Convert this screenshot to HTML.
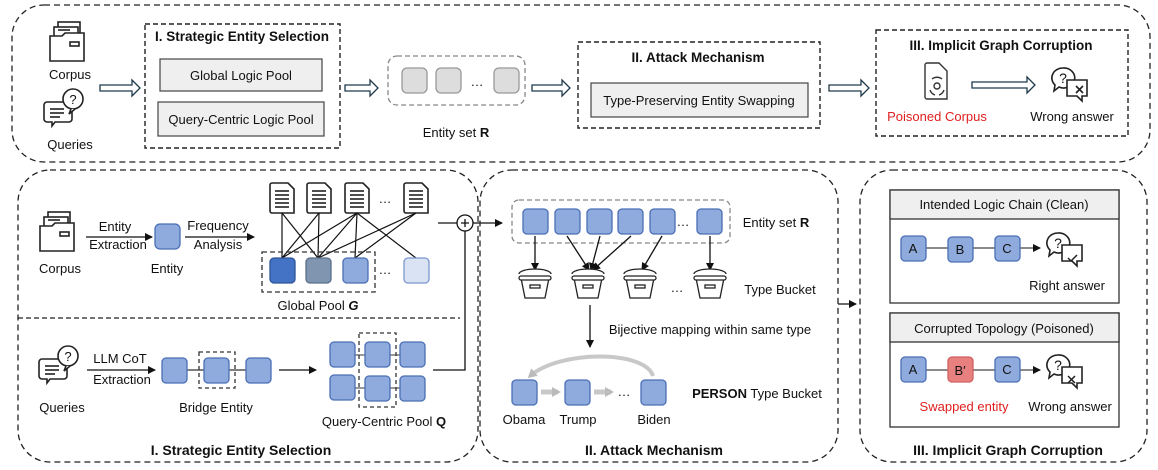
<!DOCTYPE html>
<html><head><meta charset="utf-8"><style>
html,body{margin:0;padding:0;background:#fff;}
svg{display:block;}
text{font-family:"Liberation Sans",sans-serif;font-size:13px;fill:#111;}
.t{font-weight:bold;font-size:13.5px;}
.c{text-anchor:middle;}
</style></head><body>
<svg width="1158" height="470" viewBox="0 0 1158 470" xmlns="http://www.w3.org/2000/svg">
<defs>
<marker id="ah" markerWidth="8" markerHeight="8" refX="7" refY="4" orient="auto" markerUnits="userSpaceOnUse"><path d="M0,0 L8,4 L0,8 z" fill="#111"/></marker>
<marker id="ahg" markerWidth="9" markerHeight="10" refX="6" refY="5" orient="auto" markerUnits="userSpaceOnUse"><path d="M0,0 L9,5 L0,10 z" fill="#bbb"/></marker>
<g id="folder" fill="#fff" stroke="#222" stroke-width="1.6">
<rect x="8" y="0" width="22" height="20"/>
<rect x="4" y="5" width="24" height="18"/>
<path d="M0,14 h12 l3,-3 h19 v28 h-34 z"/>
<line x1="8" y1="8" x2="20" y2="8"/><rect x="20" y="20" width="9" height="4"/>
</g>
<g id="query" fill="#fff" stroke="#222" stroke-width="1.6">
<path d="M2,14 h22 a3,3 0 0 1 3,3 v14 a3,3 0 0 1 -3,3 h-14 l-3,4 v-4 h-5 a3,3 0 0 1 -3,-3 v-14 a3,3 0 0 1 3,-3z"/>
<line x1="5" y1="21" x2="19" y2="21"/><line x1="5" y1="25" x2="19" y2="25"/><line x1="5" y1="29" x2="15" y2="29"/>
<circle cx="28" cy="11" r="10"/><path d="M26,21 l-2,5 l6,-5" />
<text x="28" y="16" class="c" style="font-size:13px;stroke:none;fill:#111">?</text>
</g>
<g id="doc" fill="#fff" stroke="#222" stroke-width="1.6">
<path d="M2,0 h16 l6,6 v24 h-22 a2,2 0 0 1 -2,-2 v-26 a2,2 0 0 1 2,-2z"/>
<line x1="5" y1="8" x2="19" y2="8"/><line x1="5" y1="12" x2="19" y2="12"/><line x1="5" y1="16" x2="19" y2="16"/><line x1="5" y1="20" x2="19" y2="20"/><line x1="5" y1="24" x2="19" y2="24"/>
</g>
<g id="bucket" fill="#fff" stroke="#222" stroke-width="1.3">
<path d="M-16,-8 a16,5 0 0 1 32,0"/>
<path d="M-14,-4 h28 l-4,20 h-20 z"/>
<rect x="-16" y="-6" width="32" height="4" rx="2"/>
<rect x="-5" y="3" width="10" height="3"/>
</g>
<g id="qa" fill="#fff" stroke="#222" stroke-width="1.6">
<path d="M11,0 a11,10 0 1 1 -4,19 l-5,4 l1,-6 a11,10 0 0 1 8,-17z"/>
<text x="11" y="15" class="c" style="font-size:14px;stroke:none;fill:#111">?</text>
<path d="M15,12 h20 v16 h-5 l0,5 l-5,-5 h-10 z"/>
</g>
</defs>

<!-- TOP PANEL -->
<rect x="12" y="5" width="1138" height="157" rx="32" fill="none" stroke="#222" stroke-width="1.3" stroke-dasharray="6,4"/>
<use href="#folder" x="50" y="22"/>
<text x="70" y="79" class="c">Corpus</text>
<use href="#query" x="45" y="88"/>
<text x="70" y="149" class="c">Queries</text>
<path d="M100,85 h32 v-5 l8,8 l-8,8 v-5 h-32 z" fill="#fff" stroke="#1f3a4d" stroke-width="1.3"/>
<rect x="145" y="24" width="195" height="124" fill="none" stroke="#222" stroke-width="1.4" stroke-dasharray="5,3"/>
<text x="242" y="41" class="c t">I. Strategic Entity Selection</text>
<rect x="160" y="59" width="162" height="32" fill="#efefef" stroke="#444" stroke-width="1.2"/>
<text x="241" y="80" class="c">Global Logic Pool</text>
<rect x="158" y="102" width="166" height="34" fill="#efefef" stroke="#444" stroke-width="1.2"/>
<text x="241" y="124" class="c">Query-Centric Logic Pool</text>
<path d="M345,85 h25 v-5 l8,8 l-8,8 v-5 h-25 z" fill="#fff" stroke="#1f3a4d" stroke-width="1.3"/>
<rect x="388" y="56" width="137" height="49" rx="9" fill="none" stroke="#888" stroke-width="1.3" stroke-dasharray="5,3"/>
<rect x="402" y="68" width="25" height="25" rx="5" fill="#ddd" stroke="#999" stroke-width="1.3"/>
<rect x="436" y="68" width="25" height="25" rx="5" fill="#ddd" stroke="#999" stroke-width="1.3"/>
<text x="477" y="86" class="c">…</text>
<rect x="494" y="68" width="25" height="25" rx="5" fill="#ddd" stroke="#999" stroke-width="1.3"/>
<text x="456" y="137" class="c">Entity set <tspan font-weight="bold">R</tspan></text>
<path d="M532,85 h30 v-5 l8,8 l-8,8 v-5 h-30 z" fill="#fff" stroke="#1f3a4d" stroke-width="1.3"/>
<rect x="578" y="42" width="242" height="86" fill="none" stroke="#222" stroke-width="1.4" stroke-dasharray="5,3"/>
<text x="698" y="62" class="c t">II. Attack Mechanism</text>
<rect x="591" y="83" width="217" height="34" fill="#efefef" stroke="#444" stroke-width="1.2"/>
<text x="699" y="105" class="c">Type-Preserving Entity Swapping</text>
<path d="M829,85 h32 v-5 l8,8 l-8,8 v-5 h-32 z" fill="#fff" stroke="#1f3a4d" stroke-width="1.3"/>
<rect x="876" y="30" width="252" height="106" fill="none" stroke="#222" stroke-width="1.4" stroke-dasharray="5,3"/>
<text x="1001" y="50" class="c t">III. Implicit Graph Corruption</text>
<g fill="none" stroke="#333" stroke-width="1.4">
<path d="M927,63 h12 l8,8 v28 h-20 a2,2 0 0 1 -2,-2 v-32 a2,2 0 0 1 2,-2z"/>
<circle cx="937" cy="86" r="3"/><path d="M932,79 a8,8 0 0 1 10,0"/><path d="M930,90 a8,8 0 0 0 5,5"/><path d="M944,90 a8,8 0 0 1 -5,5"/>
</g>
<text x="937" y="121" class="c" style="fill:#e02020">Poisoned Corpus</text>
<path d="M972,82 h55 v-5 l8,8 l-8,8 v-5 h-55 z" fill="#fff" stroke="#1f3a4d" stroke-width="1.3"/>
<use href="#qa" x="1052" y="68"/>
<path d="M1076,86 l7,7 m0,-7 l-7,7" stroke="#222" stroke-width="1.6"/>
<text x="1072" y="121" class="c">Wrong answer</text>

<!-- PANEL I -->
<rect x="18" y="170" width="460" height="292" rx="32" fill="none" stroke="#222" stroke-width="1.3" stroke-dasharray="6,4"/>
<rect x="130" y="441" width="222" height="18" fill="#fff"/>
<text x="241" y="455" class="c t" style="font-size:14px">I. Strategic Entity Selection</text>
<line x1="18" y1="318" x2="460" y2="318" stroke="#222" stroke-width="1.3" stroke-dasharray="5,3"/>
<use href="#folder" x="40" y="212"/>
<text x="60" y="273" class="c">Corpus</text>
<line x1="86" y1="237" x2="152" y2="237" stroke="#111" stroke-width="1.3" marker-end="url(#ah)"/>
<text x="115" y="231" class="c">Entity</text>
<text x="118" y="249" class="c">Extraction</text>
<rect x="155" y="224" width="25" height="25" rx="5" fill="#8faadc" stroke="#4a6fb5" stroke-width="1.3"/>
<text x="167" y="273" class="c">Entity</text>
<line x1="185" y1="237" x2="254" y2="237" stroke="#111" stroke-width="1.3" marker-end="url(#ah)"/>
<text x="218" y="230" class="c">Frequency</text>
<text x="218" y="249" class="c">Analysis</text>
<use href="#doc" x="270" y="183"/><use href="#doc" x="307" y="183"/><use href="#doc" x="345" y="183"/><use href="#doc" x="404" y="183"/>
<text x="385" y="203" class="c">…</text>
<g stroke="#111" stroke-width="1.2">
<line x1="282" y1="213" x2="282" y2="258"/><line x1="282" y1="213" x2="318" y2="258"/>
<line x1="319" y1="213" x2="282" y2="258"/><line x1="319" y1="213" x2="318" y2="258"/>
<line x1="357" y1="213" x2="282" y2="258"/><line x1="357" y1="213" x2="318" y2="258"/><line x1="357" y1="213" x2="355" y2="258"/><line x1="357" y1="213" x2="416" y2="258"/>
<line x1="416" y1="213" x2="318" y2="258"/><line x1="416" y1="213" x2="355" y2="258"/>
</g>
<rect x="262" y="252" width="113" height="40" fill="none" stroke="#333" stroke-width="1.3" stroke-dasharray="5,3"/>
<rect x="270" y="258" width="25" height="25" rx="4" fill="#4472c4" stroke="#2f5597" stroke-width="1.3"/>
<rect x="306" y="258" width="25" height="25" rx="4" fill="#8096b0" stroke="#5a6f8a" stroke-width="1.3"/>
<rect x="343" y="258" width="25" height="25" rx="4" fill="#8faadc" stroke="#4a6fb5" stroke-width="1.3"/>
<text x="385" y="274" class="c">…</text>
<rect x="404" y="258" width="25" height="25" rx="4" fill="#dae3f3" stroke="#7a97cc" stroke-width="1.3"/>
<text x="318" y="310" class="c">Global Pool <tspan font-weight="bold" font-style="italic">G</tspan></text>
<!-- plus -->
<line x1="438" y1="223" x2="457" y2="223" stroke="#111" stroke-width="1.3"/>
<circle cx="465" cy="223" r="8" fill="#fff" stroke="#111" stroke-width="1.3"/>
<path d="M461,223 h8 M465,219 v8" stroke="#111" stroke-width="1.3"/>
<path d="M433,370 H465 V231" fill="none" stroke="#111" stroke-width="1.3"/>
<line x1="473" y1="223" x2="502" y2="223" stroke="#111" stroke-width="1.3" marker-end="url(#ah)"/>
<!-- queries -->
<use href="#query" x="40" y="345"/>
<text x="62" y="412" class="c">Queries</text>
<line x1="87" y1="370" x2="155" y2="370" stroke="#111" stroke-width="1.3" marker-end="url(#ah)"/>
<text x="120" y="363" class="c">LLM CoT</text>
<text x="122" y="384" class="c">Extraction</text>
<line x1="187" y1="370" x2="246" y2="370" stroke="#333" stroke-width="1.2"/>
<rect x="162" y="358" width="25" height="25" rx="4" fill="#8faadc" stroke="#4a6fb5" stroke-width="1.3"/>
<rect x="199" y="352" width="36" height="36" fill="none" stroke="#333" stroke-width="1.3" stroke-dasharray="4,3"/>
<rect x="204" y="358" width="25" height="25" rx="4" fill="#8faadc" stroke="#4a6fb5" stroke-width="1.3"/>
<rect x="246" y="358" width="25" height="25" rx="4" fill="#8faadc" stroke="#4a6fb5" stroke-width="1.3"/>
<text x="216" y="412" class="c">Bridge Entity</text>
<line x1="279" y1="370" x2="316" y2="370" stroke="#111" stroke-width="1.3" marker-end="url(#ah)"/>
<line x1="340" y1="355" x2="410" y2="355" stroke="#333"/><line x1="340" y1="388" x2="410" y2="388" stroke="#333"/>
<rect x="359" y="333" width="37" height="74" fill="none" stroke="#333" stroke-width="1.3" stroke-dasharray="4,3"/>
<g fill="#8faadc" stroke="#4a6fb5" stroke-width="1.3">
<rect x="330" y="342" width="25" height="25" rx="4"/><rect x="365" y="342" width="25" height="25" rx="4"/><rect x="400" y="342" width="25" height="25" rx="4"/>
<rect x="330" y="375" width="25" height="25" rx="4"/><rect x="365" y="376" width="25" height="25" rx="4"/><rect x="400" y="376" width="25" height="25" rx="4"/>
</g>
<text x="384" y="426" class="c">Query-Centric Pool <tspan font-weight="bold">Q</tspan></text>

<!-- PANEL II -->
<rect x="480" y="170" width="358" height="292" rx="32" fill="none" stroke="#222" stroke-width="1.3" stroke-dasharray="6,4"/>
<rect x="572" y="441" width="166" height="18" fill="#fff"/>
<text x="654" y="455" class="c t" style="font-size:14px">II. Attack Mechanism</text>
<rect x="512" y="200" width="218" height="43" rx="7" fill="none" stroke="#888" stroke-width="1.3" stroke-dasharray="5,3"/>
<g fill="#8faadc" stroke="#4a6fb5" stroke-width="1.3">
<rect x="523" y="209" width="25" height="25" rx="4"/><rect x="555" y="209" width="25" height="25" rx="4"/><rect x="587" y="209" width="25" height="25" rx="4"/><rect x="618" y="209" width="25" height="25" rx="4"/><rect x="650" y="209" width="25" height="25" rx="4"/><rect x="697" y="209" width="25" height="25" rx="4"/>
</g>
<text x="683" y="226" class="c">…</text>
<text x="776" y="227" class="c">Entity set <tspan font-weight="bold">R</tspan></text>
<g stroke="#111" stroke-width="1.3" marker-end="url(#ah)">
<line x1="535" y1="236" x2="535" y2="270"/>
<line x1="567" y1="236" x2="589" y2="270"/>
<line x1="600" y1="236" x2="591" y2="270"/>
<line x1="631" y1="236" x2="593" y2="270"/>
<line x1="662" y1="236" x2="642" y2="270"/>
<line x1="710" y1="236" x2="710" y2="270"/>
</g>
<use href="#bucket" x="535" y="282"/><use href="#bucket" x="588" y="282"/><use href="#bucket" x="640" y="282"/><use href="#bucket" x="710" y="282"/>
<text x="677" y="292" class="c">…</text>
<text x="780" y="294" class="c">Type Bucket</text>
<line x1="590" y1="305" x2="590" y2="347" stroke="#111" stroke-width="1.3" marker-end="url(#ah)"/>
<text x="710" y="334" class="c">Bijective mapping within same type</text>
<path d="M653,376 C645,350 560,350 530,376" fill="none" stroke="#c8c8c8" stroke-width="4" marker-end="url(#ahg)"/>
<g fill="#8faadc" stroke="#4a6fb5" stroke-width="1.3">
<rect x="512" y="380" width="25" height="25" rx="4"/><rect x="565" y="380" width="25" height="25" rx="4"/><rect x="641" y="380" width="25" height="25" rx="4"/>
</g>
<line x1="541" y1="392" x2="558" y2="392" stroke="#c8c8c8" stroke-width="5" marker-end="url(#ahg)"/>
<line x1="594" y1="392" x2="611" y2="392" stroke="#c8c8c8" stroke-width="5" marker-end="url(#ahg)"/>
<text x="624" y="396" class="c">…</text>
<text x="757" y="398" class="c"><tspan font-weight="bold">PERSON</tspan> Type Bucket</text>
<text x="524" y="424" class="c">Obama</text>
<text x="578" y="424" class="c">Trump</text>
<text x="654" y="424" class="c">Biden</text>
<line x1="838" y1="304" x2="856" y2="304" stroke="#111" stroke-width="1.3" marker-end="url(#ah)"/>

<!-- PANEL III -->
<rect x="860" y="170" width="287" height="292" rx="32" fill="none" stroke="#222" stroke-width="1.3" stroke-dasharray="6,4"/>
<rect x="897" y="441" width="222" height="18" fill="#fff"/>
<text x="1008" y="455" class="c t" style="font-size:14px">III. Implicit Graph Corruption</text>
<rect x="890" y="190" width="229" height="113" fill="#fff" stroke="#333" stroke-width="1.3"/>
<rect x="890" y="190" width="229" height="29" fill="#efefef" stroke="#333" stroke-width="1.3"/>
<text x="1004" y="209" class="c">Intended Logic Chain (Clean)</text>
<line x1="926" y1="248" x2="1040" y2="248" stroke="#444" stroke-width="1.3" marker-end="url(#ah)"/>
<g fill="#8faadc" stroke="#4a6fb5" stroke-width="1.3">
<rect x="901" y="236" width="25" height="25" rx="4"/><rect x="948" y="237" width="25" height="25" rx="4"/><rect x="995" y="236" width="25" height="25" rx="4"/>
</g>
<text x="913" y="253" class="c">A</text><text x="960" y="254" class="c">B</text><text x="1007" y="253" class="c">C</text>
<use href="#qa" x="1047" y="233"/>
<path d="M1068,258 l3,3 l6,-6" fill="none" stroke="#222" stroke-width="1.5"/>
<text x="1067" y="290" class="c">Right answer</text>
<rect x="890" y="313" width="229" height="114" fill="#fff" stroke="#333" stroke-width="1.3"/>
<rect x="890" y="313" width="229" height="29" fill="#efefef" stroke="#333" stroke-width="1.3"/>
<text x="1004" y="333" class="c">Corrupted Topology (Poisoned)</text>
<line x1="926" y1="370" x2="1040" y2="370" stroke="#444" stroke-width="1.3" marker-end="url(#ah)"/>
<rect x="901" y="357" width="25" height="25" rx="4" fill="#8faadc" stroke="#4a6fb5" stroke-width="1.3"/>
<rect x="948" y="357" width="25" height="25" rx="4" fill="#e88080" stroke="#d06060" stroke-width="1.3"/>
<rect x="995" y="357" width="25" height="25" rx="4" fill="#8faadc" stroke="#4a6fb5" stroke-width="1.3"/>
<text x="913" y="374" class="c">A</text><text x="960" y="375" class="c">B′</text><text x="1007" y="374" class="c">C</text>
<use href="#qa" x="1047" y="355"/>
<path d="M1068,376 l7,7 m0,-7 l-7,7" stroke="#222" stroke-width="1.5"/>
<text x="964" y="411" class="c" style="fill:#e02020">Swapped entity</text>
<text x="1070" y="411" class="c">Wrong answer</text>
</svg>
</body></html>
